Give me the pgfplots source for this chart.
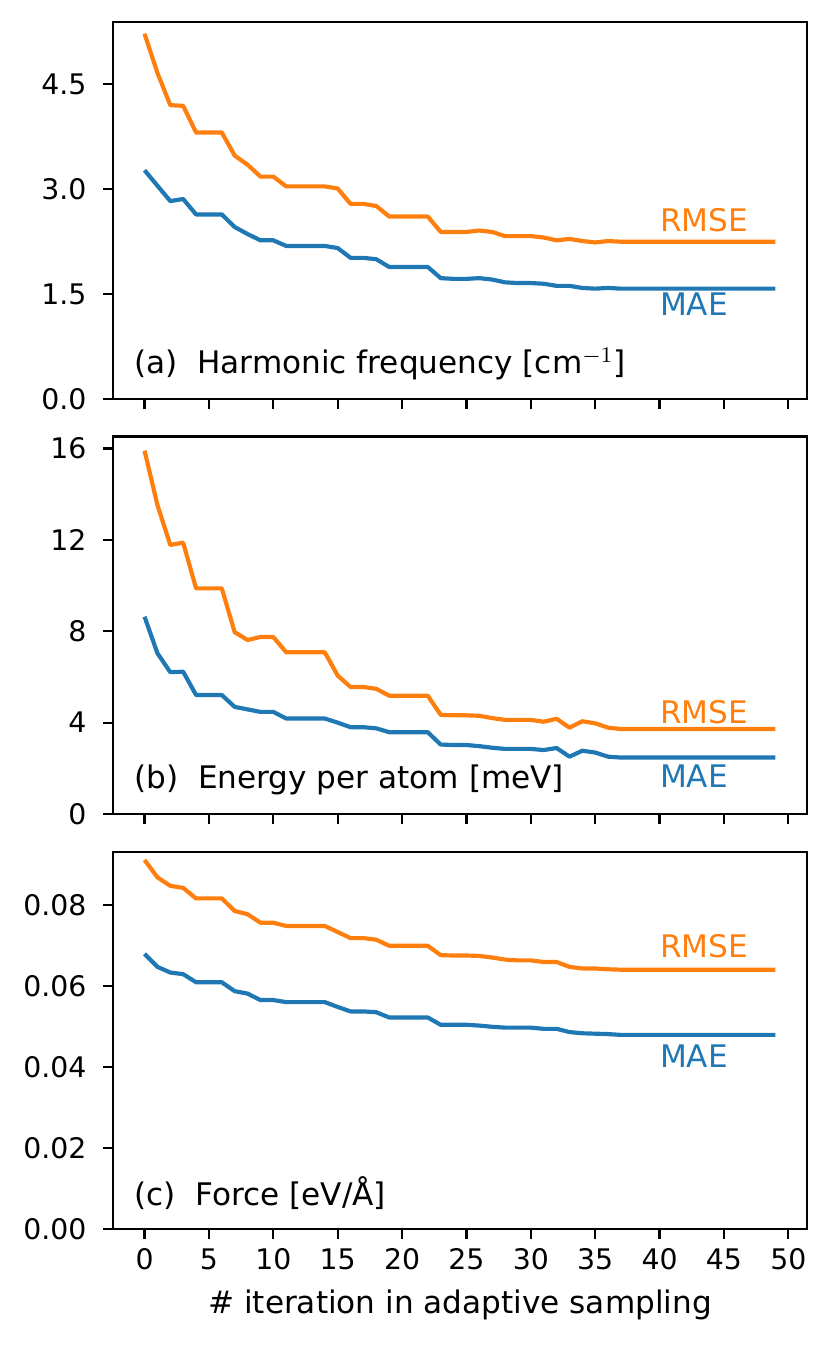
\documentclass[border=0pt]{standalone}
\usepackage{fontspec}
\setmainfont{DejaVu Sans}
\usepackage{pgfplots}
\usepackage{pgfplotstable}
\pgfplotsset{compat=1.18}
\definecolor{mplorange}{HTML}{FF7F0E}
\definecolor{mplblue}{HTML}{1F77B4}

\pgfplotstableread{
x rmse mae
0 5.22 3.27
1 4.66 3.05
2 4.20 2.83
3 4.19 2.86
4 3.81 2.64
5 3.81 2.64
6 3.81 2.64
7 3.48 2.46
8 3.35 2.36
9 3.18 2.27
10 3.18 2.27
11 3.04 2.19
12 3.04 2.19
13 3.04 2.19
14 3.04 2.19
15 3.01 2.16
16 2.79 2.02
17 2.79 2.02
18 2.76 2.00
19 2.61 1.89
20 2.61 1.89
21 2.61 1.89
22 2.61 1.89
23 2.39 1.73
24 2.39 1.72
25 2.39 1.72
26 2.41 1.73
27 2.39 1.71
28 2.33 1.67
29 2.33 1.66
30 2.33 1.66
31 2.31 1.65
32 2.27 1.62
33 2.29 1.62
34 2.26 1.59
35 2.24 1.58
36 2.26 1.59
37 2.25 1.58
38 2.25 1.58
39 2.25 1.58
40 2.25 1.58
41 2.25 1.58
42 2.25 1.58
43 2.25 1.58
44 2.25 1.58
45 2.25 1.58
46 2.25 1.58
47 2.25 1.58
48 2.25 1.58
49 2.25 1.58
}\freqtab

\pgfplotstableread{
x rmse mae
0 15.91 8.64
1 13.53 7.04
2 11.78 6.21
3 11.88 6.23
4 9.88 5.21
5 9.88 5.21
6 9.88 5.21
7 7.96 4.69
8 7.62 4.58
9 7.75 4.47
10 7.75 4.47
11 7.08 4.18
12 7.08 4.18
13 7.08 4.18
14 7.08 4.18
15 6.06 4.00
16 5.56 3.80
17 5.56 3.80
18 5.48 3.75
19 5.18 3.58
20 5.18 3.58
21 5.18 3.58
22 5.18 3.58
23 4.34 3.04
24 4.32 3.02
25 4.32 3.02
26 4.30 2.97
27 4.20 2.90
28 4.12 2.85
29 4.12 2.85
30 4.12 2.85
31 4.04 2.80
32 4.17 2.89
33 3.78 2.51
34 4.06 2.77
35 3.97 2.69
36 3.78 2.51
37 3.72 2.47
38 3.72 2.47
39 3.72 2.47
40 3.72 2.47
41 3.72 2.47
42 3.72 2.47
43 3.72 2.47
44 3.72 2.47
45 3.72 2.47
46 3.72 2.47
47 3.72 2.47
48 3.72 2.47
49 3.72 2.47
}\energytab

\pgfplotstableread{
x rmse mae
0 0.0912 0.0680
1 0.0869 0.0648
2 0.0848 0.0634
3 0.0843 0.0630
4 0.0817 0.0610
5 0.0817 0.0610
6 0.0817 0.0610
7 0.0786 0.0588
8 0.0778 0.0582
9 0.0757 0.0566
10 0.0757 0.0566
11 0.0749 0.0561
12 0.0749 0.0561
13 0.0749 0.0561
14 0.0749 0.0561
15 0.0734 0.0549
16 0.0719 0.0538
17 0.0719 0.0538
18 0.0715 0.0536
19 0.0700 0.0523
20 0.0700 0.0523
21 0.0700 0.0523
22 0.0700 0.0523
23 0.0677 0.0505
24 0.0676 0.0505
25 0.0676 0.0505
26 0.0675 0.0503
27 0.0671 0.0500
28 0.0666 0.0498
29 0.0664 0.0498
30 0.0664 0.0498
31 0.0660 0.0495
32 0.0660 0.0495
33 0.0648 0.0487
34 0.0644 0.0484
35 0.0644 0.0483
36 0.0642 0.0482
37 0.0641 0.0480
38 0.0641 0.0480
39 0.0641 0.0480
40 0.0641 0.0480
41 0.0641 0.0480
42 0.0641 0.0480
43 0.0641 0.0480
44 0.0641 0.0480
45 0.0641 0.0480
46 0.0641 0.0480
47 0.0641 0.0480
48 0.0641 0.0480
49 0.0641 0.0480
}\forcetab

\tikzset{lbl/.style={inner sep=0pt, font=\fontsize{11.2}{13.4}\selectfont}}
\pgfplotsset{
  panel/.style={
    scale only axis,
    width=249.84pt,
    height=135.9pt,
    xmin=-2.45, xmax=51.45,
    ymin=0,
    xtick={0,5,...,50},
    xtick pos=left, ytick pos=left,
    tick align=outside,
    major tick length=3.5pt,
    every tick/.style={black, line width=0.8pt},
    axis line style={line width=0.8pt},
    /pgf/number format/assume math mode=true,
    tick label style={font=\fontsize{10.2}{12.2}\selectfont},
    yticklabel style={xshift=-2.5pt},
    label style={font=\fontsize{11.2}{13.4}\selectfont},
    anchor=south west,
    clip=false,
  },
  rmseline/.style={color=mplorange, line width=1.5pt, line join=round, no marks},
  maeline/.style={color=mplblue, line width=1.5pt, line join=round, no marks},
}

\begin{document}
\begin{tikzpicture}
\path[use as bounding box] (0,0) rectangle (299.16pt,484.56pt);

\begin{axis}[panel, at={(40.68pt,340.8pt)},
  ymax=5.39, ytick={0,1.5,3,4.5},
  yticklabel style={/pgf/number format/.cd, fixed, fixed zerofill, precision=1},
  xticklabels={}]
\addplot[rmseline] table[x=x, y=rmse] {\freqtab};
\addplot[maeline] table[x=x, y=mae] {\freqtab};
\node[lbl, anchor=west, text=mplorange] at (axis cs:40,2.56) {RMSE};
\node[lbl, anchor=west, text=mplblue] at (axis cs:40,1.36) {MAE};
\node[lbl, anchor=south west] at (rel axis cs:0.03,0.05) {(a)\ \ Harmonic frequency [cm$^{-1}$]};
\end{axis}

\begin{axis}[panel, at={(40.68pt,191.52pt)},
  ymax=16.53, ytick={0,4,8,12,16},
  xticklabels={}]
\addplot[rmseline] table[x=x, y=rmse] {\energytab};
\addplot[maeline] table[x=x, y=mae] {\energytab};
\node[lbl, anchor=west, text=mplorange] at (axis cs:40,4.45) {RMSE};
\node[lbl, anchor=west, text=mplblue] at (axis cs:40,1.67) {MAE};
\node[lbl, anchor=south west] at (rel axis cs:0.03,0.05) {(b)\ \ Energy per atom [meV]};
\end{axis}

\begin{axis}[panel, at={(40.68pt,42.0pt)},
  ymax=0.0932, ytick={0,0.02,0.04,0.06,0.08},
  scaled y ticks=false,
  yticklabel style={/pgf/number format/.cd, fixed, fixed zerofill, precision=2},
  xlabel={\# iteration in adaptive sampling}]
\addplot[rmseline] table[x=x, y=rmse] {\forcetab};
\addplot[maeline] table[x=x, y=mae] {\forcetab};
\node[lbl, anchor=west, text=mplorange] at (axis cs:40,0.0699) {RMSE};
\node[lbl, anchor=west, text=mplblue] at (axis cs:40,0.0427) {MAE};
\node[lbl, anchor=south west] at (rel axis cs:0.03,0.05) {(c)\ \ Force [eV/Å]};
\end{axis}
\end{tikzpicture}
\end{document}
